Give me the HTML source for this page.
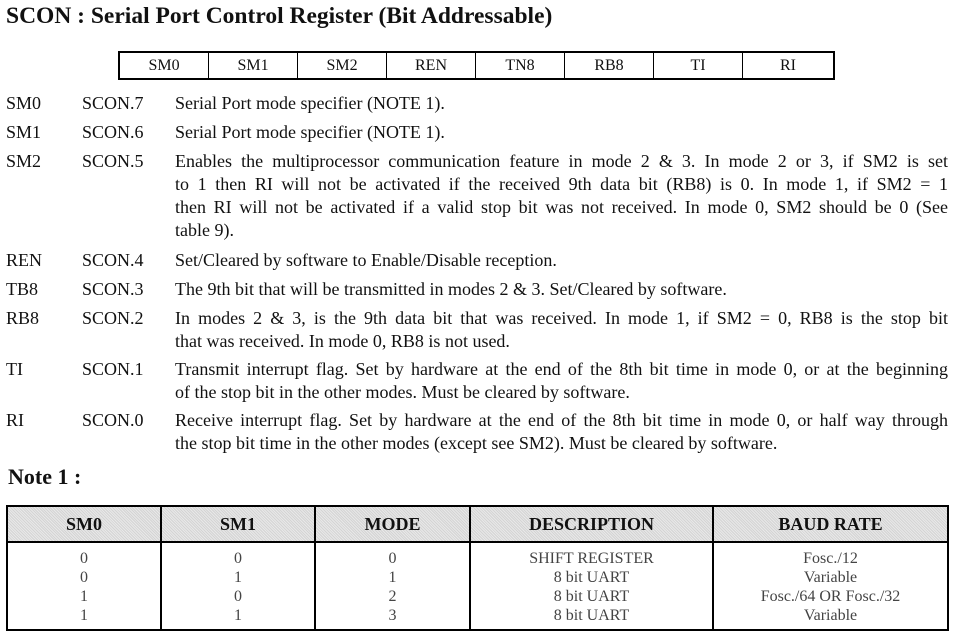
<!DOCTYPE html>
<html><head><style>
body{margin:0;width:956px;height:642px;background:#fff;font-family:"Liberation Serif",serif;color:#111;position:relative;overflow:hidden}
.a{position:absolute;white-space:nowrap;font-size:18px;line-height:23px}
.j{width:773px}
.j span{display:block;text-align:justify;text-align-last:justify;white-space:normal}
.j span.l{text-align-last:left}
.t{position:absolute;font-weight:bold;font-size:23.5px;white-space:nowrap}
.reg{position:absolute;left:118px;top:51px;border:2px solid #000;display:flex;height:25px}
.reg div{width:88px;border-right:1.5px solid #000;text-align:center;font-size:16px;line-height:25px}
.reg div:last-child{border-right:none;width:90px}
table{position:absolute;left:6px;top:505px;width:943px;border-collapse:collapse;font-size:16px}
td,th{border:2px solid #000;text-align:center;padding:0}
th{height:34px;background:repeating-linear-gradient(45deg,#e8e8e8 0 1px,#d4d4d4 1px 2px);font-size:18px}
td{line-height:19px;padding:6px 0 4px;color:#444}
</style></head><body>
<div class="t" style="left:6px;top:3px">SCON : Serial Port Control Register (Bit Addressable)</div>
<div class="reg"><div>SM0</div><div>SM1</div><div>SM2</div><div>REN</div><div>TN8</div><div>RB8</div><div>TI</div><div>RI</div></div>

<div class="a" style="left:6px;top:92px">SM0</div><div class="a" style="left:82px;top:92px">SCON.7</div><div class="a" style="left:175px;top:92px">Serial Port mode specifier (NOTE 1).</div>
<div class="a" style="left:6px;top:121px">SM1</div><div class="a" style="left:82px;top:121px">SCON.6</div><div class="a" style="left:175px;top:121px">Serial Port mode specifier (NOTE 1).</div>
<div class="a" style="left:6px;top:150px">SM2</div><div class="a" style="left:82px;top:150px">SCON.5</div>
<div class="a j" style="left:175px;top:150px"><span>Enables the multiprocessor communication feature in mode 2 &amp; 3. In mode 2 or 3, if SM2 is set</span><span>to 1 then RI will not be activated if the received 9th data bit (RB8) is 0. In mode 1, if SM2 = 1</span><span>then RI will not be activated if a valid stop bit was not received. In mode 0, SM2 should be 0 (See</span><span class="l">table 9).</span></div>
<div class="a" style="left:6px;top:249px">REN</div><div class="a" style="left:82px;top:249px">SCON.4</div><div class="a" style="left:175px;top:249px">Set/Cleared by software to Enable/Disable reception.</div>
<div class="a" style="left:6px;top:278px">TB8</div><div class="a" style="left:82px;top:278px">SCON.3</div><div class="a" style="left:175px;top:278px">The 9th bit that will be transmitted in modes 2 &amp; 3. Set/Cleared by software.</div>
<div class="a" style="left:6px;top:307px">RB8</div><div class="a" style="left:82px;top:307px">SCON.2</div><div class="a j" style="left:175px;top:307px"><span>In modes 2 &amp; 3, is the 9th data bit that was received. In mode 1, if SM2 = 0, RB8 is the stop bit</span><span class="l">that was received. In mode 0, RB8 is not used.</span></div>
<div class="a" style="left:6px;top:358px">TI</div><div class="a" style="left:82px;top:358px">SCON.1</div><div class="a j" style="left:175px;top:358px"><span>Transmit interrupt flag. Set by hardware at the end of the 8th bit time in mode 0, or at the beginning</span><span class="l">of the stop bit in the other modes. Must be cleared by software.</span></div>
<div class="a" style="left:6px;top:409px">RI</div><div class="a" style="left:82px;top:409px">SCON.0</div><div class="a j" style="left:175px;top:409px"><span>Receive interrupt flag. Set by hardware at the end of the 8th bit time in mode 0, or half way through</span><span class="l">the stop bit time in the other modes (except see SM2). Must be cleared by software.</span></div>
<div class="t" style="left:8px;top:464px;font-size:22px">Note 1 :</div>

<table>
<tr><th style="width:152px">SM0</th><th style="width:152px">SM1</th><th style="width:153px">MODE</th><th style="width:241px">DESCRIPTION</th><th>BAUD RATE</th></tr>
<tr><td>0<br>0<br>1<br>1</td><td>0<br>1<br>0<br>1</td><td>0<br>1<br>2<br>3</td><td>SHIFT REGISTER<br>8 bit UART<br>8 bit UART<br>8 bit UART</td><td>Fosc./12<br>Variable<br>Fosc./64 OR Fosc./32<br>Variable</td></tr>
</table>
</body></html>
